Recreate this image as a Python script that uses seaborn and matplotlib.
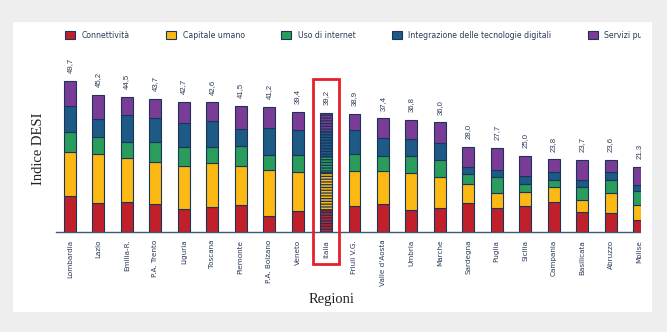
import numpy as np
import pandas as pd
import matplotlib
matplotlib.use("Agg")
import matplotlib.pyplot as plt
from matplotlib.patches import Rectangle, Patch
import seaborn as sns

# DESI per regione (componenti impilate)
regioni = ["Lombardia", "Lazio", "Emilia-R.", "P.A. Trento", "Liguria", "Toscana",
           "Piemonte", "P.A. Bolzano", "Veneto", "Italia", "Friuli V.G.",
           "Valle d'Aosta", "Umbria", "Marche", "Sardegna", "Puglia", "Sicilia",
           "Campania", "Basilicata", "Abruzzo", "Molise"]
totale = [49.7, 45.2, 44.5, 43.7, 42.7, 42.6, 41.5, 41.2, 39.4, 39.2, 38.9,
          37.4, 36.8, 36.0, 28.0, 27.7, 25.0, 23.8, 23.7, 23.6, 21.3]
connettivita = [11.8, 9.4, 9.7, 9.1, 7.5, 8.1, 8.8, 5.2, 6.9, 7.2, 8.5,
                9.1, 7.2, 7.7, 9.5, 7.7, 8.5, 9.6, 6.3, 6.1, 3.9]
capitale_umano = [14.6, 16.2, 14.5, 13.9, 14.2, 14.5, 12.9, 15.1, 12.8, 12.6, 11.6,
                  11.0, 12.0, 10.4, 6.1, 5.0, 4.4, 5.0, 4.2, 6.5, 5.0]
uso_internet = [6.3, 5.6, 5.3, 6.5, 6.2, 5.3, 6.4, 5.0, 5.5, 5.2, 5.4,
                4.9, 5.7, 5.5, 3.4, 5.3, 2.9, 2.4, 4.2, 4.4, 4.4]
integrazione = [8.6, 5.8, 8.8, 7.9, 7.9, 8.6, 5.7, 9.0, 8.3, 8.2, 8.0,
                5.8, 5.7, 5.7, 2.4, 2.2, 2.4, 2.5, 2.4, 2.5, 2.2]
servizi = [8.4, 8.2, 6.2, 6.3, 6.9, 6.1, 7.7, 6.9, 5.9, 6.0, 5.4,
           6.6, 6.2, 6.7, 6.6, 7.5, 6.8, 4.3, 6.6, 4.1, 5.8]

componenti = ["Connettività", "Capitale umano", "Uso di internet",
              "Integrazione delle tecnologie digitali", "Servizi pubblici digitali"]
colori = ["#c1202a", "#fdb913", "#2a9d5c", "#1d5a86", "#7b3c98"]

df = pd.DataFrame({"Regione": regioni, componenti[0]: connettivita,
                   componenti[1]: capitale_umano, componenti[2]: uso_internet,
                   componenti[3]: integrazione, componenti[4]: servizi})

sns.set_theme(style="white")
plt.rcParams["font.family"] = ["DejaVu Sans"]
plt.rcParams["hatch.linewidth"] = 0.9

navy = "#1b3558"
testo = "#2b3a58"

fig = plt.figure(figsize=(6.67, 3.32), dpi=100)
fig.patch.set_facecolor("#eeeeee")
W, H = 667, 332
# pannello bianco
fig.add_artist(Rectangle((13 / W, 1 - 312 / H), 639 / W, 290 / H,
                         transform=fig.transFigure, facecolor="white",
                         edgecolor="none", zorder=-5))

ax = fig.add_axes([56 / W, 1 - 231.5 / H, 585 / W, 181.8 / H])
ax.set_facecolor("none")

bottom = np.zeros(len(regioni))
idx_it = regioni.index("Italia")
for comp, col in zip(componenti, colori):
    sns.barplot(data=df, x="Regione", y=comp, bottom=bottom, color=col,
                width=0.42, edgecolor=navy, linewidth=0.8, saturation=1, ax=ax)
    ax.containers[-1][idx_it].set_hatch("------")
    bottom = bottom + df[comp].values

for i, v in enumerate(totale):
    ax.annotate(f"{v:.1f}".replace(".", ","), (i, bottom[i]), xytext=(0, 5.5),
                textcoords="offset points", rotation=90, ha="center", va="bottom",
                fontsize=5.6, family=["Liberation Sans", "DejaVu Sans"], color=testo,
                annotation_clip=False)

ax.set_xlim(-0.49, 20.07)
ax.set_ylim(0, 60)
ax.set_xlabel("")
ax.set_ylabel("")
ax.set_yticks([])
for s in ["left", "top", "right"]:
    ax.spines[s].set_visible(False)
ax.spines["bottom"].set_color("#3e5677")
ax.spines["bottom"].set_linewidth(1.0)
ax.tick_params(axis="x", length=0, pad=6, labelsize=5.2, labelcolor=testo)
for lab in ax.get_xticklabels():
    lab.set_rotation(90)
    lab.set_va("top")
    lab.set_ha("center")

# riquadro rosso su Italia
ax.add_patch(Rectangle((idx_it - 0.45, -10.7), 0.9, 61.0, fill=False,
                       edgecolor="#e5202b", linewidth=2.0, clip_on=False, zorder=6))

fig.text(38 / W, 1 - 149 / H, "Indice DESI", rotation=90, ha="center", va="center",
         fontsize=10.5, family="Liberation Serif", color="#222222")
fig.text(332 / W, 1 - 300 / H, "Regioni", ha="center", va="center",
         fontsize=10.5, family="Liberation Serif", color="#222222")

handles = [Patch(facecolor=c, edgecolor=navy, linewidth=0.8) for c in colori]
fig.legend(handles, componenti, loc="center left", bbox_to_anchor=(65 / W, 1 - 35 / H),
           ncol=5, frameon=False, fontsize=5.55, labelcolor=testo,
           handlelength=1.3, handleheight=1.3, handletextpad=0.85,
           columnspacing=4.72, borderpad=0, borderaxespad=0)

# taglio a destra come nello screenshot
fig.add_artist(Rectangle((641 / W, 1 - 312 / H), 11 / W, 290 / H,
                         transform=fig.transFigure, facecolor="white",
                         edgecolor="none", zorder=20))
fig.add_artist(Rectangle((652 / W, 0), 15 / W, 1, transform=fig.transFigure,
                         facecolor="#eeeeee", edgecolor="none", zorder=21))

fig.savefig("out.png", dpi=100)
